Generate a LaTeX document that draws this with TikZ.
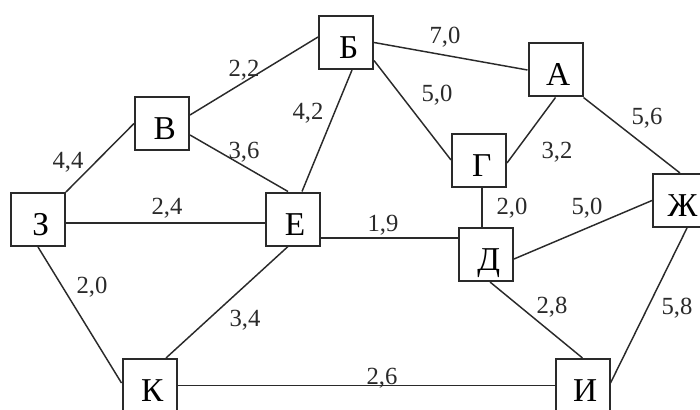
\documentclass[tikz,border=0pt]{standalone}
\usepackage{fontspec}
\setmainfont{Liberation Serif}
\usetikzlibrary{calc}
\definecolor{ink}{HTML}{2A2A2A}
\tikzset{
  vbox/.style={draw=ink, line width=1.5pt, fill=white, minimum width=40.5pt, minimum height=39.75pt, inner sep=0pt, text height=24pt, text depth=0pt, font=\fontsize{25}{25}\selectfont, execute at begin node=\hspace*{4pt}},
  wlabel/.style={inner sep=0pt, font=\fontsize{18.5}{18.5}\selectfont, text=ink},
  edge/.style={draw=ink, line width=1.1pt}
}
\begin{document}
\begin{tikzpicture}[x=0.75pt,y=-0.75pt]
\useasboundingbox (0,0) rectangle (700,410);
\clip (0,0) rectangle (700,410);
% nodes
\node[vbox] (B) at (346,42.5) {Б};
\node[vbox] (A) at (555.5,70) {А};
\node[vbox] (V) at (162,123.5) {В};
\node[vbox] (G) at (479,160) {Г};
\node[vbox] (Z) at (38,219.5) {З};
\node[vbox] (E) at (292.5,219) {Е};
\node[vbox] (D) at (486,254.5) {Д};
\node[vbox] (Zh) at (680,200.5) {Ж};
\node[vbox] (K) at (149.5,385.5) {К};
\node[vbox] (I) at (582.5,385.5) {И};
% edges
\draw[edge] (Z.north east) -- (V.west);
\draw[edge] ($(V.east)+(0,-8.5)$) -- ($(B.west)+(0,-5.5)$);
\draw[edge] ($(V.east)+(0,11.5)$) -- ($(E.north)+(-4.5,0)$);
\draw[edge] ($(B.south)+(6,0)$) -- ($(E.north)+(9.5,0)$);
\draw[edge] ($(Z.east)+(0,3.5)$) -- ($(E.west)+(0,4)$);
\draw[edge] (B.east) -- (A.west);
\draw[edge] ($(B.east)+(0,18)$) -- (G.west);
\draw[edge] (A.south) -- ($(G.east)+(0,3)$);
\draw[edge] (A.south east) -- (Zh.north);
\draw[edge] ($(G.south)+(3,0)$) -- ($(D.north)+(-4,0)$);
\draw[edge] ($(E.east)+(0,19)$) -- ($(D.west)+(0,-16.5)$);
\draw[edge] ($(D.east)+(0,4.5)$) -- (Zh.west);
\draw[edge] ($(D.south)+(4,0)$) -- (I.north);
\draw[edge] ($(Zh.south)+(7,0)$) -- ($(I.east)+(0,-2.5)$);
\draw[edge] (Z.south) -- ($(K.west)+(0,-2.5)$);
\draw[edge] ($(E.south)+(-4.5,0)$) -- ($(K.north)+(16.5,0)$);
\draw[edge] (K.east) -- (I.west);
% labels
\node[wlabel] (l1) at (244,70) {2,2};
\node[wlabel] (l2) at (68,162) {4,4};
\node[wlabel] (l3) at (244,152) {3,6};
\node[wlabel] (l4) at (308,113) {4,2};
\node[wlabel] (l5) at (167,208) {2,4};
\node[wlabel] (l6) at (445,37) {7,0};
\node[wlabel] (l7) at (437,95) {5,0};
\node[wlabel] (l8) at (557,152) {3,2};
\node[wlabel] (l9) at (647,118) {5,6};
\node[wlabel] (l10) at (512,208) {2,0};
\node[wlabel] (l11) at (587,208) {5,0};
\node[wlabel] (l12) at (383,225) {1,9};
\node[wlabel] (l13) at (92,287) {2,0};
\node[wlabel] (l14) at (245,320) {3,4};
\node[wlabel] (l15) at (552,307) {2,8};
\node[wlabel] (l16) at (677,308) {5,8};
\node[wlabel] (l17) at (382,378) {2,6};
\end{tikzpicture}
\end{document}
